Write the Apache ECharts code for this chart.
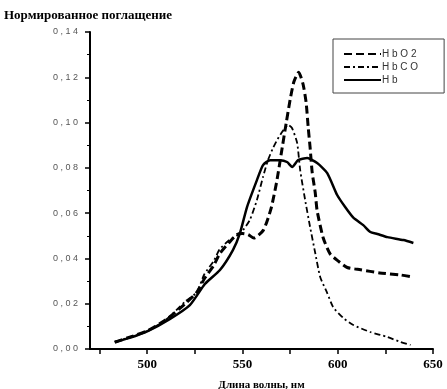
<!DOCTYPE html>
<html>
<head>
<meta charset="utf-8">
<script src="https://cdn.jsdelivr.net/npm/echarts@6/dist/echarts.min.js"></script>
<style>
  html, body { margin: 0; padding: 0; background: #fff; }
  #chart { width: 447px; height: 389px; }
</style>
</head>
<body>
<div id="chart"></div>
<script>
// длина волны (нм) и нормированное поглощение
const wlHbO2 = [483, 490, 500, 510, 520, 526, 530, 535, 538, 543, 547, 550, 553, 556, 561, 565, 568, 570.5, 573, 575, 577, 579.5, 581.8, 583.4, 584.5, 585.5, 586.6, 588.2, 589.2, 592.4, 596, 600, 605, 612, 622, 633, 639]
const valHbO2 = [0.003, 0.005, 0.008, 0.013, 0.02, 0.025, 0.031, 0.037, 0.042, 0.047, 0.0505, 0.051, 0.0505, 0.049, 0.0525, 0.062, 0.074, 0.087, 0.100, 0.110, 0.118, 0.1222, 0.117, 0.109, 0.098, 0.089, 0.078, 0.069, 0.061, 0.049, 0.042, 0.039, 0.036, 0.035, 0.0336, 0.0327, 0.0318]

const wlHbCO = [483, 490, 500, 510, 520, 526, 530, 535, 538, 543, 547, 550.3, 553.9, 557.6, 560.8, 563.4, 566, 568.2, 570.8, 574, 576, 578.7, 580.3, 582.9, 585.5, 588.2, 590.8, 594.5, 597.6, 602.9, 608.2, 617.1, 626.1, 632.9, 638.2]
const valHbCO = [0.003, 0.005, 0.008, 0.013, 0.021, 0.025, 0.033, 0.039, 0.044, 0.048, 0.050, 0.0525, 0.057, 0.0658, 0.076, 0.0834, 0.0887, 0.0923, 0.0958, 0.0989, 0.0976, 0.091, 0.079, 0.0658, 0.0539, 0.0424, 0.0318, 0.0247, 0.0185, 0.0137, 0.0106, 0.0075, 0.0053, 0.0031, 0.0018]

const wlHb = [483, 490.8, 500.3, 511.8, 522.4, 530.3, 538.2, 545, 548.7, 552.4, 557.6, 560.8, 564.5, 569.7, 573.4, 576.1, 579.2, 584, 589.2, 594.5, 599.7, 603.9, 608.2, 613.4, 617.1, 620.8, 626.1, 634.5, 639.7]
const valHb = [0.0031, 0.0049, 0.0079, 0.0132, 0.0194, 0.0287, 0.0349, 0.0437, 0.0512, 0.0627, 0.0746, 0.0812, 0.0834, 0.0834, 0.0826, 0.0804, 0.0834, 0.0843, 0.0821, 0.0777, 0.068, 0.0627, 0.058, 0.0547, 0.0517, 0.0508, 0.0494, 0.0481, 0.0468]

const seriesNames = ['HbO 2', 'HbCO', 'Hb']
const xTicks = [475, 500, 525, 550, 575, 600, 625, 650]
const xLabels = [500, 550, 600, 650]

const pairs = (xs, ys) => xs.map((x, i) => [x, ys[i]])
const spaced = s => s.replace(/ /g, '').split('').join(' ')

const chart = echarts.init(document.getElementById('chart'))

const option = {
  animation: false,
  backgroundColor: '#fff',
  title: {
    text: 'Нормированное поглащение',
    left: 4,
    top: 9,
    padding: 0,
    textStyle: { fontFamily: 'Liberation Serif', fontWeight: 'bold', fontSize: 13, color: '#000' }
  },
  legend: {
    orient: 'vertical',
    left: 333,
    top: 39,
    padding: [10, 26, 8, 10],
    itemGap: 3,
    itemWidth: 37,
    itemHeight: 10,
    borderColor: '#444',
    borderWidth: 1,
    formatter: spaced,
    itemStyle: { opacity: 0 },
    textStyle: { fontFamily: 'Liberation Sans', fontSize: 10, color: '#333', padding: [0, 0, 0, -4] },
    data: seriesNames
  },
  grid: { left: 90, right: 14, top: 32, bottom: 40, outerBoundsMode: 'none' },
  xAxis: {
    type: 'value',
    min: 470,
    max: 650,
    name: 'Длина волны, нм',
    nameLocation: 'middle',
    nameGap: 31,
    nameTextStyle: { fontFamily: 'Liberation Serif', fontWeight: 'bold', fontSize: 11, color: '#000' },
    splitLine: { show: false },
    axisLine: { lineStyle: { color: '#000', width: 2 } },
    axisTick: { customValues: xTicks, length: 5, lineStyle: { color: '#000', width: 1.5 } },
    axisLabel: {
      customValues: xLabels,
      margin: 9,
      fontFamily: 'Liberation Serif',
      fontWeight: 'bold',
      fontSize: 13,
      color: '#000'
    }
  },
  yAxis: {
    type: 'value',
    min: 0,
    max: 0.14,
    interval: 0.02,
    splitLine: { show: false },
    axisLine: { show: true, lineStyle: { color: '#000', width: 2 } },
    axisTick: { show: true, length: 5, lineStyle: { color: '#000', width: 1.5 } },
    minorTick: { show: true, splitNumber: 2, length: 3, lineStyle: { color: '#000', width: 1 } },
    axisLabel: {
      margin: 12,
      fontFamily: 'Liberation Sans',
      fontSize: 9,
      color: '#555',
      formatter: v => v.toFixed(2).replace('.', ',').split('').join(' ')
    }
  },
  series: [
    {
      name: seriesNames[0],
      type: 'line',
      symbol: 'none',
      smooth: 0.2,
      lineStyle: { color: '#000', width: 3, type: [8, 4] },
      itemStyle: { color: '#000' },
      data: pairs(wlHbO2, valHbO2)
    },
    {
      name: seriesNames[1],
      type: 'line',
      symbol: 'none',
      smooth: 0.2,
      lineStyle: { color: '#000', width: 1.8, type: [6, 3, 2, 3] },
      itemStyle: { color: '#000' },
      data: pairs(wlHbCO, valHbCO)
    },
    {
      name: seriesNames[2],
      type: 'line',
      symbol: 'none',
      smooth: 0.2,
      lineStyle: { color: '#000', width: 2.5 },
      itemStyle: { color: '#000' },
      data: pairs(wlHb, valHb)
    }
  ]
}

chart.setOption(option)
window.addEventListener('resize', () => chart.resize())
</script>
</body>
</html>
